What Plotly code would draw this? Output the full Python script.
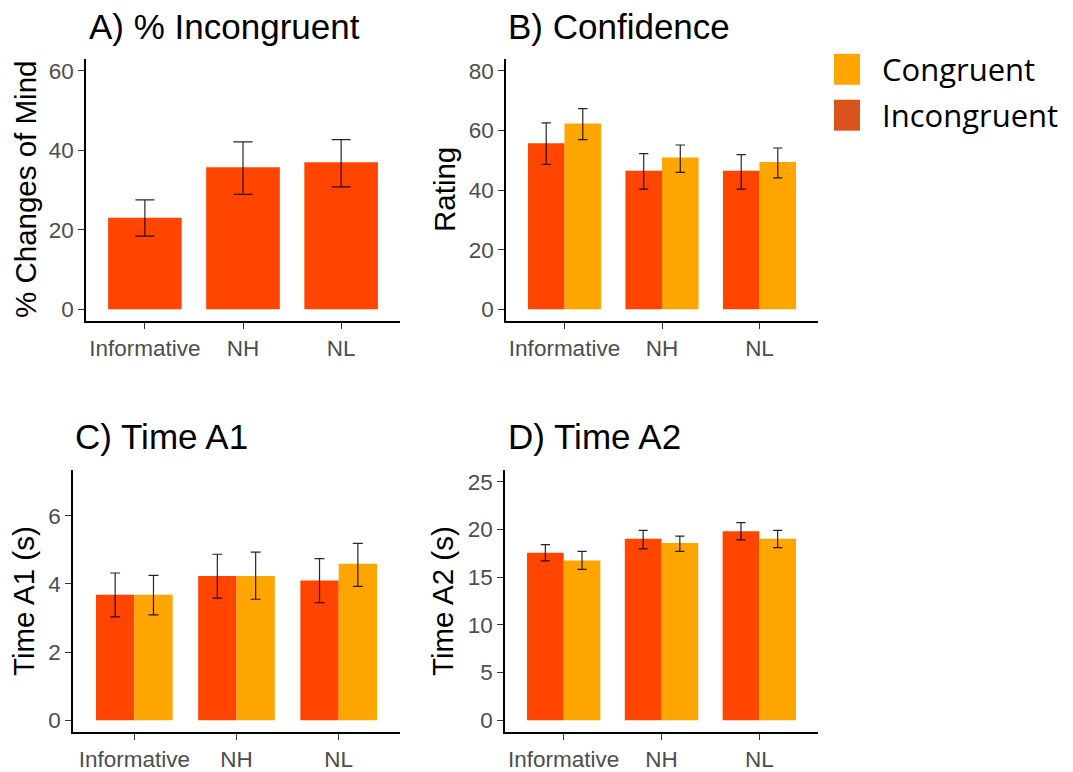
import plotly.graph_objects as go

W, H = 1073, 772

groups = ["Informative", "NH", "NL"]

# A) percentage of changes of mind on incongruent trials
pct_mean = [23.0, 35.7, 37.0]
pct_lo = [18.4, 28.9, 30.8]
pct_hi = [27.5, 42.1, 42.7]

# B) confidence rating
conf_inc_mean = [55.7, 46.5, 46.5]
conf_inc_lo = [48.6, 40.3, 40.3]
conf_inc_hi = [62.5, 52.2, 51.9]
conf_con_mean = [62.3, 50.9, 49.4]
conf_con_lo = [56.9, 45.9, 44.1]
conf_con_hi = [67.3, 55.1, 54.1]

# C) time to first answer (s)
a1_inc_mean = [3.68, 4.23, 4.10]
a1_inc_lo = [3.03, 3.58, 3.45]
a1_inc_hi = [4.32, 4.87, 4.74]
a1_con_mean = [3.68, 4.23, 4.59]
a1_con_lo = [3.09, 3.55, 3.93]
a1_con_hi = [4.25, 4.93, 5.19]

# D) time to second answer (s)
a2_inc_mean = [17.55, 19.03, 19.80]
a2_inc_lo = [16.70, 17.95, 18.90]
a2_inc_hi = [18.40, 19.90, 20.70]
a2_con_mean = [16.75, 18.57, 19.03]
a2_con_lo = [15.80, 17.70, 18.08]
a2_con_hi = [17.70, 19.30, 19.90]

RED = "#FF4500"
ORANGE = "#FFA500"
LEGEND_RED = "#D9541C"

# panel boxes in pixels: (left, right, top, bottom)
boxes = {
    "A": (86, 400, 59, 322),
    "B": (506, 818, 59, 322),
    "C": (73, 400, 471, 734),
    "D": (505, 818, 471, 734),
}
yranges = {"A": [-3, 63], "B": [-4, 84], "C": [-0.35, 7.35], "D": [-1.25, 26.25]}
ydticks = {"A": 20, "B": 20, "C": 2, "D": 5}
cap_w = {"A": 9.5, "B": 4.7, "C": 5, "D": 4.6}


def err(mean, lo, hi, cap):
    return dict(
        type="data", symmetric=False,
        array=[h - m for m, h in zip(mean, hi)],
        arrayminus=[m - l for m, l in zip(mean, lo)],
        color="rgba(0,0,0,0.85)", thickness=1.2, width=cap,
    )


fig = go.Figure()

axis_ids = {"A": "", "B": "2", "C": "3", "D": "4"}


def add_bar(panel, mean, lo, hi, color, name):
    k = axis_ids[panel]
    fig.add_trace(go.Bar(
        x=groups, y=mean, name=name, marker=dict(color=color, line=dict(width=0)),
        error_y=err(mean, lo, hi, cap_w[panel]),
        xaxis="x" + k, yaxis="y" + k, showlegend=False,
    ))


add_bar("A", pct_mean, pct_lo, pct_hi, RED, "Incongruent")
add_bar("B", conf_inc_mean, conf_inc_lo, conf_inc_hi, RED, "Incongruent")
add_bar("B", conf_con_mean, conf_con_lo, conf_con_hi, ORANGE, "Congruent")
add_bar("C", a1_inc_mean, a1_inc_lo, a1_inc_hi, RED, "Incongruent")
add_bar("C", a1_con_mean, a1_con_lo, a1_con_hi, ORANGE, "Congruent")
add_bar("D", a2_inc_mean, a2_inc_lo, a2_inc_hi, RED, "Incongruent")
add_bar("D", a2_con_mean, a2_con_lo, a2_con_hi, ORANGE, "Congruent")

tick_font = dict(family="Liberation Sans, Arial, sans-serif", size=22.5, color="#4D4D4D")
layout = dict(
    width=W, height=H, margin=dict(l=0, r=0, t=0, b=0),
    paper_bgcolor="white", plot_bgcolor="white",
    barmode="group", bargap=0.25, bargroupgap=0,
    annotations=[], shapes=[],
)

for p, (l, r, t, b) in boxes.items():
    k = axis_ids[p]
    xname = "xaxis" + k
    yname = "yaxis" + k
    layout[xname] = dict(
        domain=[l / W, r / W], anchor="y" + k, type="category",
        range=[-0.6, 2.6], showline=True, linecolor="black", linewidth=1.6,
        ticks="outside", ticklen=6, tickwidth=1.2, tickcolor="#333333",
        showgrid=False, zeroline=False, tickfont=tick_font, fixedrange=True,
    )
    y0, y1 = yranges[p]
    layout[yname] = dict(
        domain=[1 - b / H, 1 - t / H], anchor="x" + k,
        range=[y0, y1], tick0=0, dtick=ydticks[p],
        showline=True, linecolor="black", linewidth=1.6,
        ticks="outside", ticklen=6, tickwidth=1.2, tickcolor="#333333",
        showgrid=False, zeroline=False, tickfont=tick_font, fixedrange=True,
    )

titles = {
    "A": ("A) % Incongruent", 87, 27),
    "B": ("B) Confidence", 506, 27),
    "C": ("C) Time A1", 73, 438),
    "D": ("D) Time A2", 506, 438),
}
ytitles = {
    "A": ("% Changes of Mind", 25),
    "B": ("Rating", 444),
    "C": ("Time A1 (s)", 24),
    "D": ("Time A2 (s)", 443),
}
title_font = dict(family="Liberation Sans, Arial, sans-serif", size=35, color="black")
ytitle_font = dict(family="Liberation Sans, Arial, sans-serif", size=29.5, color="black")

for p, (txt, x, y) in titles.items():
    layout["annotations"].append(dict(
        text=txt, x=x / W, y=1 - y / H, xref="paper", yref="paper",
        xanchor="left", yanchor="middle", showarrow=False, font=title_font,
    ))
for p, (txt, x) in ytitles.items():
    l, r, t, b = boxes[p]
    layout["annotations"].append(dict(
        text=txt, x=x / W, y=1 - (t + b) / 2 / H, xref="paper", yref="paper",
        xanchor="center", yanchor="middle", textangle=-90, showarrow=False,
        font=ytitle_font,
    ))

# legend drawn as swatches with labels
legend_items = [("Congruent", ORANGE, 54, 85), ("Incongruent", LEGEND_RED, 100, 131)]
legend_font = dict(family="Open Sans, sans-serif", size=31, color="black")
for label, color, top, bot in legend_items:
    layout["shapes"].append(dict(
        type="rect", xref="paper", yref="paper",
        x0=834 / W, x1=860 / W, y0=1 - bot / H, y1=1 - top / H,
        fillcolor=color, line=dict(width=0),
    ))
    layout["annotations"].append(dict(
        text=label, x=880 / W, y=1 - (top + bot) / 2 / H, xref="paper", yref="paper",
        xanchor="left", yanchor="middle", showarrow=False, font=legend_font,
    ))

fig.update_layout(**layout)
fig.write_html("out.html", config={"displayModeBar": False})
